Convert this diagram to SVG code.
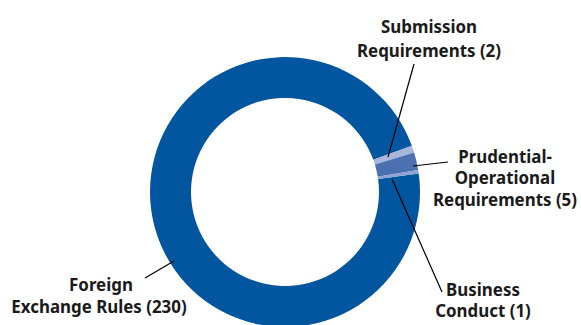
<svg xmlns="http://www.w3.org/2000/svg" width="581" height="325" viewBox="0 0 581 325">
<style>
.lbl{font-family:"Noto Sans","Liberation Sans",sans-serif;font-weight:700;font-size:16.9px;fill:#1a1a1a;text-anchor:middle}
.ld{stroke:#000;stroke-width:1.2;fill:none}
</style>
<rect width="581" height="325" fill="#fff"/>
<g id="foreign">
<path d="M418.720,173.448 A135,135 0 1 1 411.858,145.827 L373.331,159.850 A94,94 0 1 0 378.109,179.083 Z" fill="#02559f"/>
</g>
<g id="submission">
<path d="M411.858,145.827 A135,135 0 0 1 414.118,152.587 L374.904,164.557 A94,94 0 0 0 373.331,159.850 Z" fill="#a7b6dc"/>
</g>
<g id="prudential">
<path d="M414.118,152.587 A135,135 0 0 1 418.183,169.923 L377.735,176.628 A94,94 0 0 0 374.904,164.557 Z" fill="#4b70b1"/>
</g>
<g id="business">
<path d="M418.183,169.923 A135,135 0 0 1 418.720,173.448 L378.109,179.083 A94,94 0 0 0 377.735,176.628 Z" fill="#8ea3d4"/>
</g>
<g id="connectors">
<line class="ld" x1="414" y1="64" x2="388" y2="157"/>
<line class="ld" x1="413" y1="166" x2="448" y2="162"/>
<line class="ld" x1="392" y1="179" x2="442" y2="292"/>
<line class="ld" x1="145" y1="278" x2="174" y2="261"/>
</g>
<g id="label-submission">
<text class="lbl" x="429" y="33">Submission</text>
<text class="lbl" x="429" y="56.5">Requirements (2)</text>
</g>
<g id="label-prudential">
<text class="lbl" x="505" y="162.5">Prudential-</text>
<text class="lbl" x="505" y="184">Operational</text>
<text class="lbl" x="505" y="205.5">Requirements (5)</text>
</g>
<g id="label-business">
<text class="lbl" x="483" y="295.5">Business</text>
<text class="lbl" x="483" y="317">Conduct (1)</text>
</g>
<g id="label-foreign">
<text class="lbl" x="101" y="290.5">Foreign</text>
<text class="lbl" x="99" y="312.5">Exchange Rules (230)</text>
</g>
</svg>
